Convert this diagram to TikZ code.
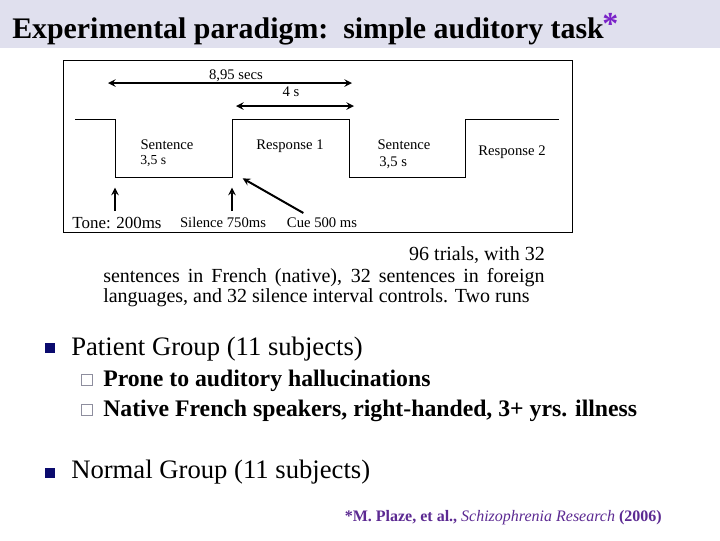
\documentclass[tikz,border=0pt]{standalone}
\usepackage{fontspec}
\setmainfont{Liberation Serif}
\usetikzlibrary{positioning}

\definecolor{bandcol}{HTML}{E0E0EE}
\definecolor{navy}{HTML}{0B0B6E}
\definecolor{boxgray}{HTML}{8E8E9E}
\definecolor{refpurple}{HTML}{5C2A92}
\definecolor{starpurple}{HTML}{7A22C8}

\begin{document}
\begin{tikzpicture}[x=0.75pt, y=-0.75pt]
    % --- CONFIGURATION ---
    \tikzset{
        txt/.style={inner sep=0pt, anchor=base},
        lbl/.style={txt, font=\fontsize{11}{13}\selectfont},
        wave/.style={semithick, line join=miter},
        arr/.style={->, >=stealth, line width=1.5pt},
        dblarr/.style={<->, >=stealth, line width=1.5pt},
        bullet_sq/.style={fill=navy, minimum size=7.5pt, inner sep=0pt},
        sub_sq/.style={draw=boxgray, fill=white, minimum size=8.2pt, inner sep=0pt, line width=0.7pt},
        main_item/.style={txt, anchor=base west, font=\fontsize{20}{24}\selectfont},
        sub_item/.style={txt, anchor=base west, font=\fontsize{17.8}{22}\selectfont\bfseries}
    }
    \useasboundingbox (0,0) rectangle (720,540);

    % ===================================================
    % TITLE
    % ===================================================
    \fill[bandcol] (0,0) rectangle (720,48);
    \node[txt, anchor=base west, font=\fontsize{22.4}{26}\selectfont\bfseries] (title) at (12,38)
        {Experimental paradigm:\ \ simple auditory task};
    \node[txt, anchor=base west, text=starpurple, font=\fontsize{24}{26}\selectfont\bfseries] (star) at (602,34) {*};

    % ===================================================
    % TIMELINE
    % ===================================================
    \draw[semithick] (63,60) rectangle (572,232);

    % corners of the block signal
    \foreach \n/\x/\y in {0/75/119, 1/115/119, 2/115/177, 3/232/177, 4/232/119,
                          5/349/119, 6/349/177, 7/465/177, 8/465/119, 9/559/119} {
        \coordinate (w\n) at (\x,\y);
    }
    \draw[wave] (w0) -- (w1) -- (w2) -- (w3) -- (w4) -- (w5) -- (w6) -- (w7) -- (w8) -- (w9);

    % durations
    \coordinate (totL) at (108,83);
    \coordinate (totR) at (352,83);
    \coordinate (respL) at (236,106);
    \coordinate (respR) at (354,106);
    \draw[dblarr] (totL) -- (totR);
    \draw[dblarr] (respL) -- (respR);
    \node[lbl] (total) at (236,79) {8,95 secs};
    \node[lbl] (four) at (291,96) {4 s};

    % blocks
    \node[lbl] (sent1) at (167,149) {Sentence};
    \node[lbl, anchor=base west, font=\fontsize{10.3}{12}\selectfont] (dur1) at (140,164) {3,5 s};
    \node[lbl] (resp1) at (290,149) {Response 1};
    \node[lbl] (sent2) at (404,149) {Sentence};
    \node[lbl, anchor=base west] (dur2) at (379,166) {3,5 s};
    \node[lbl] (resp2) at (512,155) {Response 2};

    % events
    \node[lbl, font=\fontsize{12.7}{14}\selectfont] (tone) at (117,228) {Tone: 200ms};
    \node[lbl] (silence) at (223,227) {Silence 750ms};
    \node[lbl] (cue) at (322,227) {Cue 500 ms};
    \draw[arr] ([yshift=4pt]tone.north -| w2) -- ([yshift=-8pt]w2);
    \draw[arr] ([yshift=4pt]silence.north -| w3) -- ([yshift=-8pt]w3);
    \draw[arr] ([xshift=-14pt, yshift=3pt]cue.north) -- ([xshift=8pt, yshift=-1pt]w3);

    % ===================================================
    % DESCRIPTION
    % ===================================================
    \begin{scope}[font=\fontsize{15}{18}\selectfont]
        \node[txt, anchor=base east] (trials) at (545,260) {96 trials, with 32};
        \node[txt, anchor=base west] (line2) at (103,282)
            {\makebox[331pt][s]{sentences in French (native), 32 sentences in foreign}};
        \node[txt, anchor=base west] (line3) at (103,302)
            {languages, and 32 silence interval controls. Two runs};
    \end{scope}

    % ===================================================
    % GROUPS
    % ===================================================
    \node[bullet_sq] (b1) at (50,348) {};
    \node[main_item] (patient) at (71,355) {Patient Group (11 subjects)};
    \node[sub_sq] (s1) at (87,380) {};
    \node[sub_item] (prone) at (103,386) {Prone to auditory hallucinations};
    \node[sub_sq] (s2) at (87,410) {};
    \node[sub_item] (native) at (103,416) {Native French speakers, right-handed, 3+ yrs. illness};
    \node[bullet_sq] (b2) at (50,473) {};
    \node[main_item] (normal) at (71,478) {Normal Group (11 subjects)};

    % reference
    \node[txt, anchor=base east, text=refpurple, font=\fontsize{12}{14}\selectfont] (cite) at (662,521)
        {\textbf{*M. Plaze, et al.,} \textit{Schizophrenia Research} \textbf{(2006)}};

\end{tikzpicture}
\end{document}
